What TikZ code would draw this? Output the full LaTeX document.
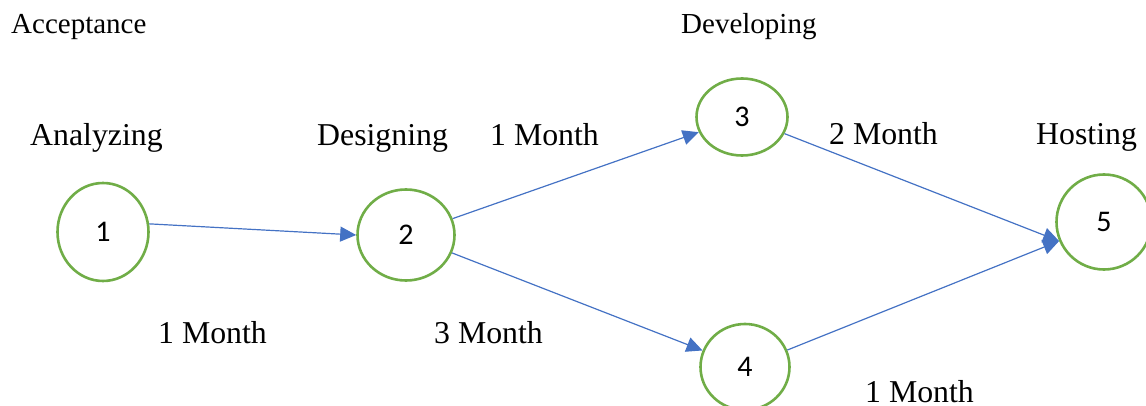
\documentclass[tikz,border=0pt]{standalone}
\usepackage{fontspec}
\setmainfont{Liberation Serif}
\newfontfamily\digitfont{Carlito}
\usetikzlibrary{arrows.meta,shapes.geometric}
\definecolor{nodegreen}{HTML}{70AD47}
\definecolor{linkblue}{HTML}{4472C4}

\begin{document}
\begin{tikzpicture}[x=1pt,y=-1pt,
  event/.style={draw=nodegreen,line width=2.6pt,ellipse,inner sep=0pt,font=\digitfont\fontsize{30}{30}\selectfont},
  task/.style={anchor=base west,inner sep=0pt,font=\fontsize{31.8}{32}\selectfont},
  phase/.style={anchor=base west,inner sep=0pt,font=\fontsize{29}{29}\selectfont},
  link/.style={draw=linkblue,line width=1.2pt,-{Triangle[length=16pt,width=15pt]}}]
  \useasboundingbox (0,0) rectangle (1146,406);
  % events
  \node[event,minimum width=91pt,minimum height=98pt] (E1) at (103,232) {1};
  \node[event,minimum width=97pt,minimum height=91pt] (E2) at (406,235) {2};
  \node[event,minimum width=91pt,minimum height=77pt] (E3) at (742,117) {3};
  \node[event,minimum width=89pt,minimum height=86pt] (E4) at (745,367) {4};
  \node[event,minimum width=95pt,minimum height=95pt] (E5) at (1104,222) {5};
  % phase names
  \node[phase] (acc) at (11,34) {Acceptance};
  \node[phase] (dev) at (681,34) {Developing};
  \node[task]  (ana) at (30,146) {Analyzing};
  \node[task]  (des) at (317,146) {Designing};
  \node[task]  (hos) at (1036,145) {Hosting};
  % durations
  \node[task] (d23) at (490,146) {1 Month};
  \node[task] (d35) at (829,145) {2 Month};
  \node[task] (d12) at (158,343) {1 Month};
  \node[task] (d24) at (434,343) {3 Month};
  \node[task] (d45) at (865,402) {1 Month};
  % activities
  \draw[link] (E1.10) -- (E2.west);
  \draw[link] (E2) -- (E3);
  \draw[link] (E2) -- (E4);
  \draw[link] (E3) -- (E5.203);
  \draw[link] (E4) -- (E5.203);
\end{tikzpicture}
\end{document}
